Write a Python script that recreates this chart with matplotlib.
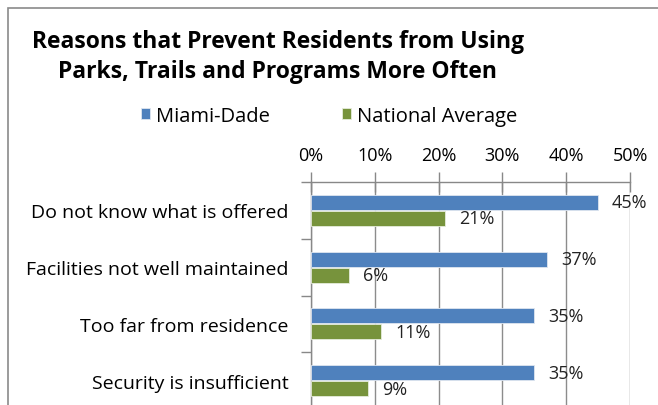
import matplotlib.pyplot as plt
import matplotlib.patches as patches
import numpy as np

categories = ['Do not know what is offered', 'Facilities not well maintained',
              'Too far from residence', 'Security is insufficient']
miami_dade = [45, 37, 35, 35]
national_avg = [21, 6, 11, 9]
series_names = ['Miami-Dade', 'National Average']
BLUE, GREEN = '#4F81BD', '#77933C'

plt.rcParams['font.family'] = ['Open Sans', 'DejaVu Sans']

fig = plt.figure(figsize=(6.58, 4.06), dpi=100)
W, H = 658, 406

# outer chart border (cropped right/bottom)
fig.add_artist(patches.Rectangle((8 / W, -0.1), 1.2, 1 - 9 / H + 0.1,
                                 transform=fig.transFigure, fill=False,
                                 edgecolor='#8a8a8a', lw=1.2))

ax = fig.add_axes([311 / W, -4 / H, (630 - 311) / W, (406 - 183 + 4) / H])
y = np.arange(len(categories))
h = 0.265
b1 = ax.barh(y - 0.14, miami_dade, height=h, color=BLUE, zorder=3,
             edgecolor='#dfe6f0', lw=0.6, label=series_names[0])
b2 = ax.barh(y + 0.14, national_avg, height=h, color=GREEN, zorder=3,
             edgecolor='#e6ecdc', lw=0.6, label=series_names[1])
for bars, vals in ((b1, miami_dade), (b2, national_avg)):
    for bar, v in zip(bars, vals):
        ax.annotate(f'{v}%', (v, bar.get_y() + bar.get_height() / 2),
                    xytext=(14, 0), textcoords='offset pixels',
                    va='center', ha='left', fontsize=13, color='#222222', zorder=4)

ax.set_xlim(0, 50)
ax.set_ylim(3.5, -0.5)
ax.xaxis.tick_top()
ax.set_xticks(np.arange(0, 51, 10))
ax.set_xticklabels([f'{t}%' for t in range(0, 51, 10)], fontsize=13)
ax.tick_params(axis='x', direction='inout', length=14, pad=6, color='#888888', width=1)
ax.set_yticks(np.arange(-0.5, 3.6, 1), minor=False)
ax.set_yticklabels([])
ax.set_yticks(y, minor=True)
ax.set_yticklabels(categories, minor=True, fontsize=14)
ax.tick_params(axis='y', which='major', direction='out', length=7, color='#888888', width=1)
ax.tick_params(axis='y', which='minor', length=0, pad=16)
ax.grid(axis='x', color='#8c8c8c', lw=1, zorder=0)
for s in ('right', 'bottom'):
    ax.spines[s].set_visible(False)
for s in ('top', 'left'):
    ax.spines[s].set_color('#888888')
    ax.spines[s].set_linewidth(1)

fig.text(278 / W, 1 - 57 / H, 'Reasons that Prevent Residents from Using\nParks, Trails and Programs More Often',
         ha='center', va='center', fontsize=16.5, fontweight='bold', linespacing=1.35)

fig.legend(handles=[b1, b2], labels=series_names, loc='center',
           bbox_to_anchor=(329 / W, 1 - 117 / H), ncol=2, frameon=False,
           fontsize=14.5, handlelength=0.45, handleheight=0.45, handletextpad=0.3,
           columnspacing=3.6)

fig.savefig('out.png', dpi=100)
